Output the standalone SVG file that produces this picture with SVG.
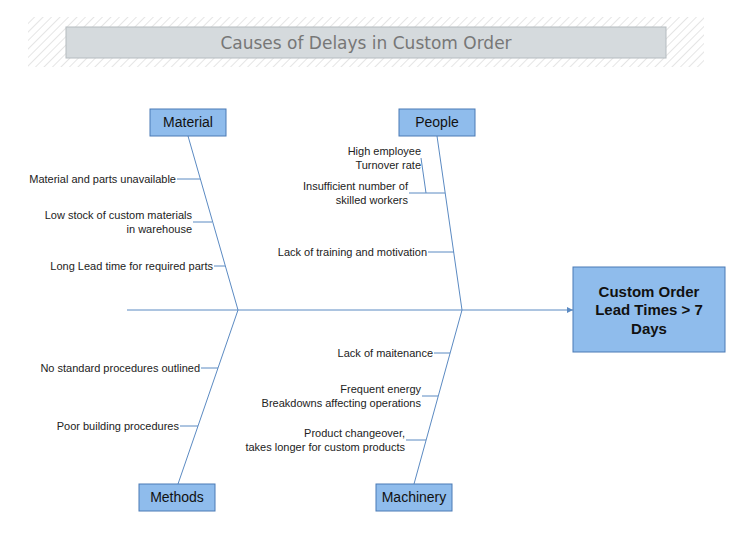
<svg xmlns="http://www.w3.org/2000/svg" width="750" height="536" viewBox="0 0 750 536">
<defs>
<pattern id="hatch" width="6" height="6" patternUnits="userSpaceOnUse" patternTransform="rotate(45)"><line x1="0" y1="0" x2="0" y2="6" stroke="#ccc" stroke-width="1"/></pattern>
<marker id="arr" markerWidth="8" markerHeight="8" refX="6" refY="3" orient="auto" markerUnits="userSpaceOnUse"><path d="M0,0 L6,3 L0,6 Z" fill="#5b8ac2"/></marker>
<style>
.l{stroke:#5b8ac2;stroke-width:1;fill:none}
.b{fill:#8fbcec;stroke:#4a7ab5;stroke-width:1}
.bt{font-family:"Liberation Sans",Arial,sans-serif;font-size:14px;fill:#111;text-anchor:middle}
.t{font-family:"Liberation Sans",Arial,sans-serif;font-size:11px;fill:#222;text-anchor:end}
</style>
</defs>
<rect width="750" height="536" fill="#fff"/>
<g id="title">
<rect x="28" y="17" width="676" height="50" fill="url(#hatch)"/>
<rect x="66" y="27" width="600" height="31" fill="#d5dadd" stroke="#b5bcc0"/>
<text x="366" y="49" font-family="DejaVu Sans,Verdana,sans-serif" font-size="17" fill="#777" text-anchor="middle">Causes of Delays in Custom Order</text>
</g>
<g id="connectors">
<line class="l" x1="127" y1="310" x2="573" y2="310" marker-end="url(#arr)"/>
<line class="l" x1="188" y1="136" x2="238" y2="310"/>
<line class="l" x1="437" y1="136" x2="462" y2="310"/>
<line class="l" x1="238" y1="310" x2="178" y2="484"/>
<line class="l" x1="462" y1="310" x2="414" y2="484"/>
<line class="l" x1="177" y1="179" x2="200" y2="179"/>
<line class="l" x1="193" y1="222" x2="212" y2="222"/>
<line class="l" x1="214" y1="266" x2="225" y2="266"/>
<line class="l" x1="409" y1="193" x2="445" y2="193"/>
<line class="l" x1="421" y1="158" x2="426" y2="193"/>
<line class="l" x1="428" y1="252" x2="454" y2="252"/>
<line class="l" x1="201" y1="368" x2="218" y2="368"/>
<line class="l" x1="180" y1="426" x2="198" y2="426"/>
<line class="l" x1="434" y1="353" x2="450" y2="353"/>
<line class="l" x1="422" y1="396" x2="438" y2="396"/>
<line class="l" x1="406" y1="440" x2="426" y2="440"/>
</g>
<g id="material"><rect class="b" x="150" y="109" width="76" height="27"/><text class="bt" x="188" y="127">Material</text></g>
<g id="people"><rect class="b" x="399" y="109" width="76" height="27"/><text class="bt" x="437" y="127">People</text></g>
<g id="methods"><rect class="b" x="139" y="484" width="76" height="27"/><text class="bt" x="177" y="502">Methods</text></g>
<g id="machinery"><rect class="b" x="376" y="484" width="76" height="27"/><text class="bt" x="414" y="502">Machinery</text></g>
<g id="effect"><rect class="b" x="573" y="267" width="152" height="85"/>
<text class="bt" font-weight="bold" font-size="15" x="649" y="297" style="font-size:15px">Custom Order</text>
<text class="bt" font-weight="bold" x="649" y="315" style="font-size:15px">Lead Times &gt; 7</text>
<text class="bt" font-weight="bold" x="649" y="334" style="font-size:15px">Days</text></g>
<g id="causes">
<text class="t" x="176" y="183">Material and parts unavailable</text>
<text class="t" x="192" y="219">Low stock of custom materials</text>
<text class="t" x="192" y="233">in warehouse</text>
<text class="t" x="213" y="270">Long Lead time for required parts</text>
<text class="t" x="421" y="155">High employee</text>
<text class="t" x="421" y="169">Turnover rate</text>
<text class="t" x="408" y="190">Insufficient number of</text>
<text class="t" x="408" y="204">skilled workers</text>
<text class="t" x="427" y="256">Lack of training and motivation</text>
<text class="t" x="200" y="372">No standard procedures outlined</text>
<text class="t" x="179" y="430">Poor building procedures</text>
<text class="t" x="433" y="357">Lack of maitenance</text>
<text class="t" x="421" y="393">Frequent energy</text>
<text class="t" x="421" y="407">Breakdowns affecting operations</text>
<text class="t" x="405" y="437">Product changeover,</text>
<text class="t" x="405" y="451">takes longer for custom products</text>
</g>
</svg>
